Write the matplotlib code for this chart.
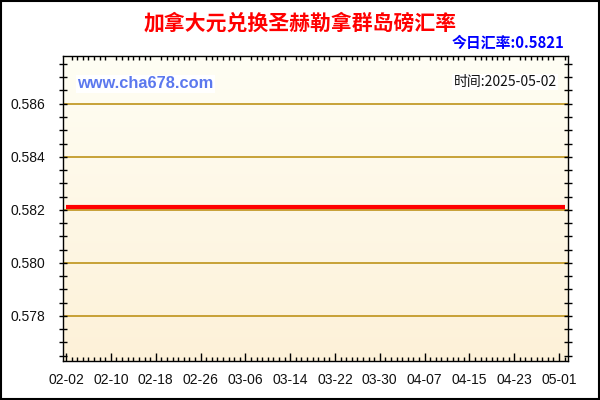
import matplotlib
matplotlib.use('Agg')
import matplotlib.pyplot as plt
import numpy as np
import pandas as pd
from matplotlib.ticker import MultipleLocator, FixedLocator
from matplotlib.patches import Rectangle

plt.rcParams['font.family'] = ['Liberation Sans', 'Noto Sans CJK SC', 'DejaVu Sans']

# daily rate, CAD -> SHP, 2025-02-02 .. 2025-05-02
dates = pd.date_range('2025-02-02', '2025-05-02', freq='D')
rates = [
    0.5821, 0.5821, 0.5821, 0.5821, 0.5821, 0.5821, 0.5821, 0.5821, 0.5821, 0.5821,
    0.5821, 0.5821, 0.5821, 0.5821, 0.5821, 0.5821, 0.5821, 0.5821, 0.5821, 0.5821,
    0.5821, 0.5821, 0.5821, 0.5821, 0.5821, 0.5821, 0.5821, 0.5821, 0.5821, 0.5821,
    0.5821, 0.5821, 0.5821, 0.5821, 0.5821, 0.5821, 0.5821, 0.5821, 0.5821, 0.5821,
    0.5821, 0.5821, 0.5821, 0.5821, 0.5821, 0.5821, 0.5821, 0.5821, 0.5821, 0.5821,
    0.5821, 0.5821, 0.5821, 0.5821, 0.5821, 0.5821, 0.5821, 0.5821, 0.5821, 0.5821,
    0.5821, 0.5821, 0.5821, 0.5821, 0.5821, 0.5821, 0.5821, 0.5821, 0.5821, 0.5821,
    0.5821, 0.5821, 0.5821, 0.5821, 0.5821, 0.5821, 0.5821, 0.5821, 0.5821, 0.5821,
    0.5821, 0.5821, 0.5821, 0.5821, 0.5821, 0.5821, 0.5821, 0.5821, 0.5821, 0.5821,
]
yticks = [0.578, 0.580, 0.582, 0.584, 0.586]

title = '加拿大元兑换圣赫勒拿群岛磅汇率'
today_txt = '今日汇率:0.5821'
site = 'www.cha678.com'
time_txt = '时间:2025-05-02'

W, H = 600, 400
fig = plt.figure(figsize=(6, 4), dpi=100)
fig.patch.set_facecolor('white')

# plot box in pixels: left 63, right 568, top 56, bottom 361
ax = fig.add_axes([63 / W, 1 - 361 / H, (568 - 63) / W, (361 - 56) / H])

x = np.arange(len(dates))
xlim = (-0.55, len(dates) - 1 + 0.6)
ylim = (0.5763, 0.5878)

# gradient background
grad = np.linspace(0, 1, 256).reshape(-1, 1)
top = np.array([255, 254, 244]) / 255
bot = np.array([253, 241, 216]) / 255
img = top + (bot - top) * grad[:, :, None]
ax.imshow(img, extent=[xlim[0], xlim[1], ylim[0], ylim[1]],
          aspect='auto', origin='upper', zorder=0)
ax.set_xlim(*xlim)
ax.set_ylim(*ylim)

for yv in yticks:
    ax.axhline(yv, color='#b88a08', lw=1.1, zorder=1)

ax.plot(x, rates, color='#ff0000', lw=3, zorder=3, solid_capstyle='butt')

# ticks
ax.xaxis.set_major_locator(FixedLocator(x[::8]))
ax.set_xticklabels([d.strftime('%m-%d') for d in dates[::8]])
ax.xaxis.set_minor_locator(FixedLocator(x))
ax.yaxis.set_major_locator(FixedLocator(yticks))
ax.yaxis.set_minor_locator(MultipleLocator(0.0005))
ax.set_yticklabels([f'{v:.3f}' for v in yticks])

ax.tick_params(axis='x', which='major', direction='in', length=6, width=1, top=False,
               labelsize=10, pad=9)
ax.tick_params(axis='x', which='minor', direction='in', length=3, width=1, top=True)
ax.tick_params(axis='y', which='both', direction='inout', length=6, width=1, right=True,
               labelsize=10, pad=10)
for lbl in ax.get_xticklabels() + ax.get_yticklabels():
    lbl.set_color('#111111')
for s in ax.spines.values():
    s.set_color('black')
    s.set_linewidth(1)

fig.text(300 / W, 1 - 23.5 / H, title, color='#ff0000', fontsize=15, fontweight='bold',
         ha='center', va='center', family=['Noto Sans CJK SC', 'DejaVu Sans'])
fig.text(564 / W, 1 - 43 / H, today_txt, color='#0000ff', fontsize=10.7, fontweight='bold',
         ha='right', va='center', family=['Noto Sans CJK SC', 'DejaVu Sans'])
fig.text(77 / W, 1 - 84 / H, site, color='#5b78ee', fontsize=11.8, fontweight='bold',
         ha='left', va='center', zorder=5,
         bbox=dict(facecolor='white', edgecolor='none', pad=1))
fig.text(557 / W, 1 - 82 / H, time_txt, color='#111111', fontsize=10,
         ha='right', va='center', family=['Noto Sans CJK SC', 'DejaVu Sans'], zorder=5,
         bbox=dict(facecolor='white', edgecolor='none', pad=1))

# figure border
fig.patches.append(Rectangle((0.001, 0.0015), 0.997, 0.996, transform=fig.transFigure,
                             fill=False, edgecolor='black', lw=1.5))

fig.savefig('out.png', dpi=100)
